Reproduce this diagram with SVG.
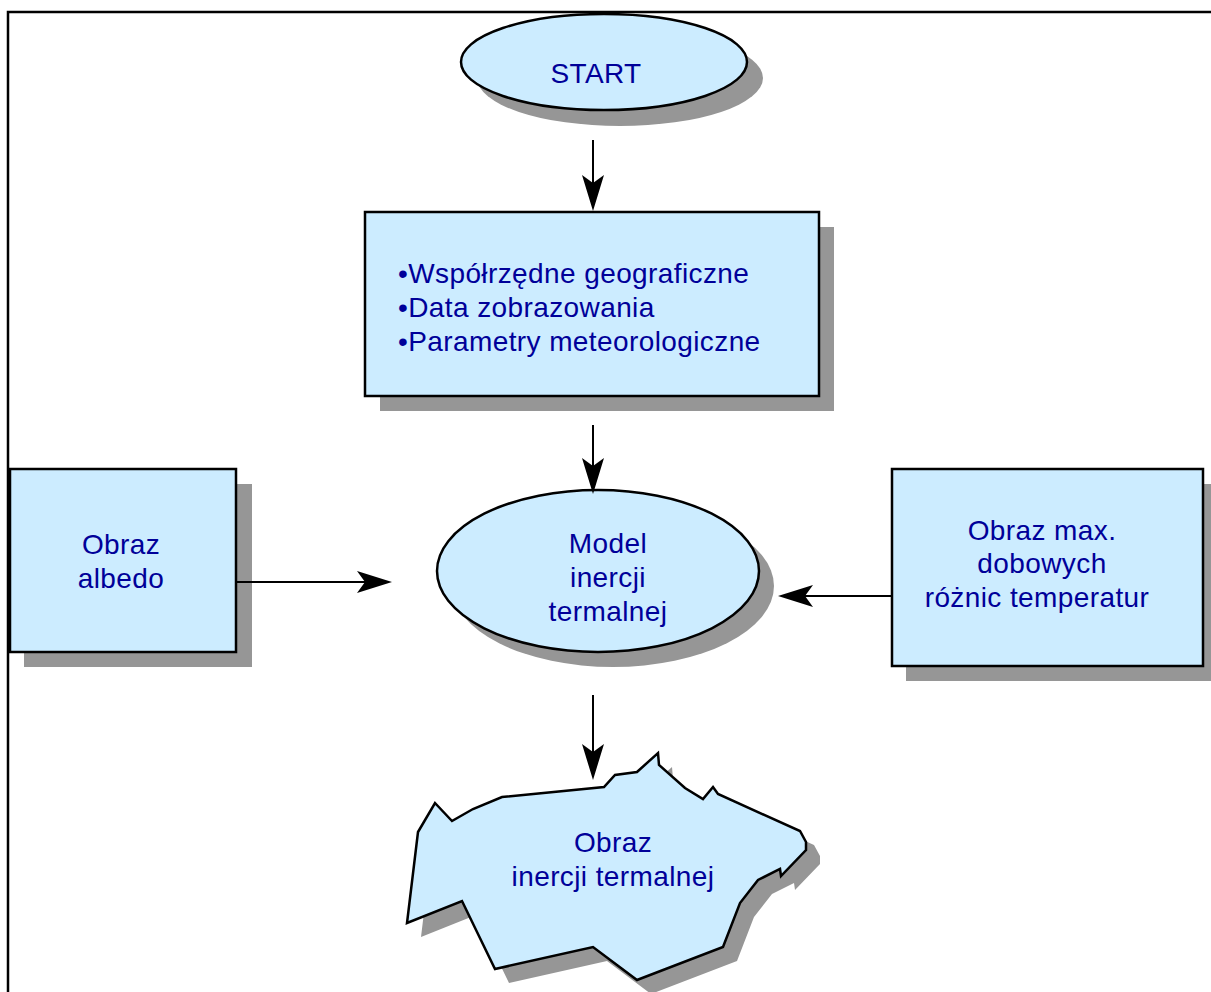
<svg xmlns="http://www.w3.org/2000/svg" width="1211" height="992" viewBox="0 0 1211 992">
<defs>
<style>
.sh{fill:#969696;stroke:none}
.nd{fill:#CCECFF;stroke:#000;stroke-width:2.5}
.tx{font-family:"Liberation Sans",Arial,sans-serif;font-size:28px;letter-spacing:0.4px;fill:#000099}
.c{text-anchor:middle}
.ln{stroke:#000;stroke-width:2;fill:none}
.ah{fill:#000;stroke:none}
</style>
</defs>
<rect width="1211" height="992" fill="#fff"/>
<rect x="8" y="12" width="1220" height="1000" fill="none" stroke="#000" stroke-width="2.5"/>

<g id="start">
<ellipse class="sh" cx="620" cy="78" rx="143" ry="48"/>
<ellipse class="nd" cx="604" cy="62" rx="143" ry="48"/>
<text class="tx c" x="596" y="83">START</text>
</g>

<g id="dane">
<rect class="sh" x="380" y="227" width="454" height="184"/>
<rect class="nd" x="365" y="212" width="454" height="184"/>
<text class="tx" x="398" y="283">•Współrzędne geograficzne</text>
<text class="tx" x="398" y="317">•Data zobrazowania</text>
<text class="tx" x="398" y="351">•Parametry meteorologiczne</text>
</g>

<g id="albedo">
<rect class="sh" x="24" y="484" width="228" height="183"/>
<rect class="nd" x="10" y="469" width="226" height="183"/>
<text class="tx c" x="121" y="554">Obraz</text>
<text class="tx c" x="121" y="588">albedo</text>
</g>

<g id="model">
<ellipse class="sh" cx="613" cy="586" rx="161" ry="81"/>
<ellipse class="nd" cx="598" cy="571" rx="161" ry="81"/>
<text class="tx c" x="608" y="553">Model</text>
<text class="tx c" x="608" y="587">inercji</text>
<text class="tx c" x="608" y="621">termalnej</text>
</g>

<g id="temperatury">
<rect class="sh" x="906" y="484" width="311" height="197"/>
<rect class="nd" x="892" y="469" width="311" height="197"/>
<text class="tx c" x="1042" y="540">Obraz max.</text>
<text class="tx c" x="1042" y="573">dobowych</text>
<text class="tx c" x="1037" y="607">różnic temperatur</text>
</g>

<g id="wynik">
<polygon class="sh" transform="translate(14,14)" points="435,803 452,821 473,809 502,797 604,787 615,775 637,772 658,753 659,765 685,788 703,799 713,787 718,794 800,831 806,842 806,850 781,876 780,869 758,880 740,903 723,947 637,980 593,947 495,969 462,901 407,923 418,832"/>
<polygon class="nd" points="435,803 452,821 473,809 502,797 604,787 615,775 637,772 658,753 659,765 685,788 703,799 713,787 718,794 800,831 806,842 806,850 781,876 780,869 758,880 740,903 723,947 637,980 593,947 495,969 462,901 407,923 418,832"/>
<text class="tx c" x="613" y="852">Obraz</text>
<text class="tx c" x="613" y="886">inercji termalnej</text>
</g>

<g id="connectors">
<line class="ln" x1="593" y1="140" x2="593" y2="185"/>
<polygon class="ah" points="593,211 582,175 593,183 604,175"/>
<line class="ln" x1="593" y1="425" x2="593" y2="468"/>
<polygon class="ah" points="593,494 582,458 593,466 604,458"/>
<line class="ln" x1="593" y1="695" x2="593" y2="754"/>
<polygon class="ah" points="593,780 582,744 593,752 604,744"/>
<line class="ln" x1="236" y1="582" x2="366" y2="582"/>
<polygon class="ah" points="392,582 357,571 365,582 357,593"/>
<line class="ln" x1="892" y1="596" x2="804" y2="596"/>
<polygon class="ah" points="778,596 813,585 805,596 813,607"/>
</g>
</svg>
